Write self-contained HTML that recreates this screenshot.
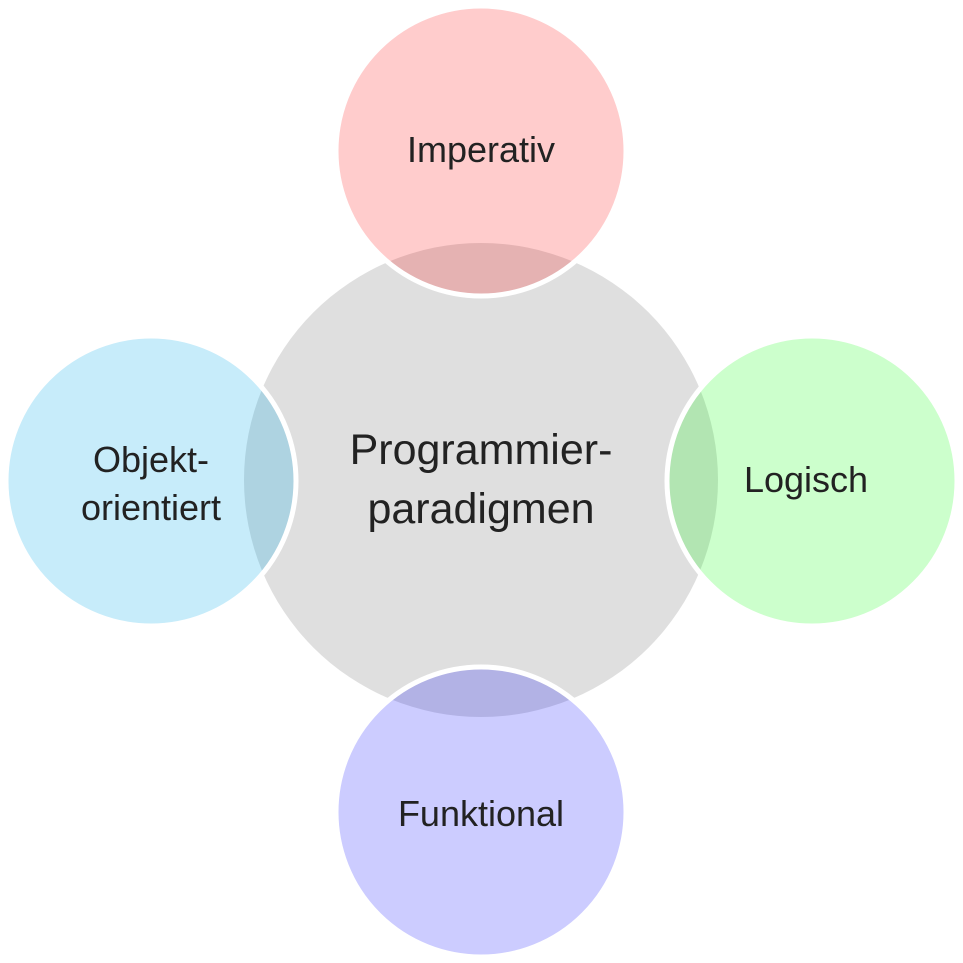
<!DOCTYPE html>
<html><head><meta charset="utf-8"><style>
html,body{margin:0;padding:0;background:#fff;}
svg{display:block;}
text{font-family:"Liberation Sans","DejaVu Sans",sans-serif;fill:#222;text-anchor:middle;}
</style></head><body>
<svg width="963" height="963" viewBox="0 0 963 963" xmlns="http://www.w3.org/2000/svg">
<circle cx="481" cy="480" r="237" fill="#dfdfdf"/>
<g stroke="#fff" stroke-width="5">
<circle cx="481" cy="151" r="145" fill="rgba(255,0,0,0.2)"/>
<circle cx="812" cy="481" r="145" fill="rgba(0,255,0,0.2)"/>
<circle cx="481" cy="812" r="145" fill="rgba(0,0,255,0.2)"/>
<circle cx="151" cy="481" r="145" fill="rgba(0,170,230,0.22)"/>
</g>
<text x="481" y="162" font-size="36">Imperativ</text>
<text x="806" y="492" font-size="36">Logisch</text>
<text x="481" y="826" font-size="36">Funktional</text>
<text x="151" y="472" font-size="36">Objekt-</text>
<text x="151" y="520" font-size="36">orientiert</text>
<text x="481" y="464" font-size="43">Programmier-</text>
<text x="481" y="523" font-size="43">paradigmen</text>
</svg>
</body></html>
